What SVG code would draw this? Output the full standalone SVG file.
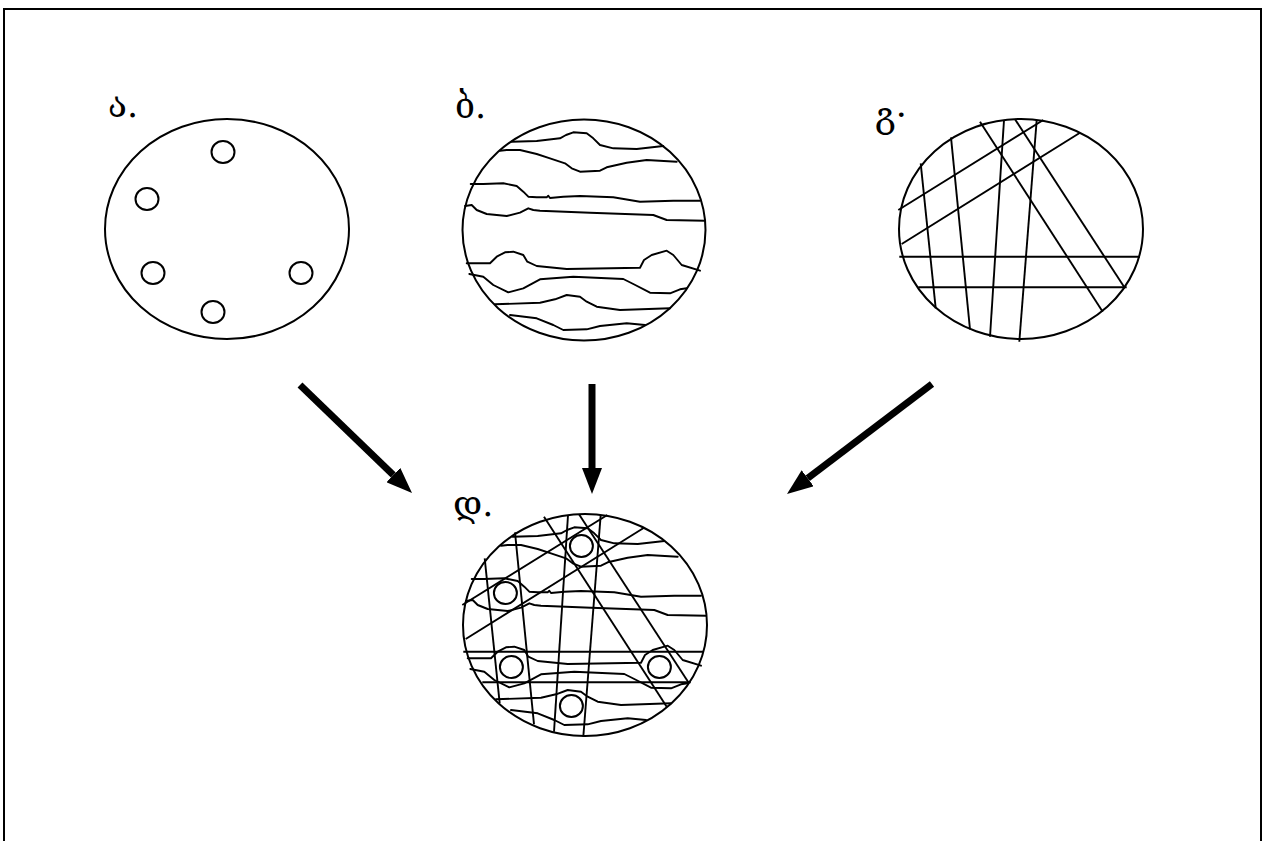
<svg xmlns="http://www.w3.org/2000/svg" xmlns:xlink="http://www.w3.org/1999/xlink" width="1266" height="841" viewBox="0 0 1266 841">
<style>
.frame{fill:none;stroke:#000;stroke-width:2}
.disc{fill:#fff;stroke:#000;stroke-width:2}
.spot{fill:none;stroke:#000;stroke-width:2}
.band{fill:none;stroke:#000;stroke-width:1.9;stroke-linejoin:round;stroke-linecap:round}
.cut{fill:none;stroke:#000;stroke-width:1.9}
.lbl{font-family:"DejaVu Serif","DejaVu Sans",serif;font-size:35px;fill:#000}
.arrow{fill:none;stroke:#000;stroke-width:7}
</style>
<defs>
<marker id="head" markerUnits="userSpaceOnUse" viewBox="0 0 26 20" refX="0" refY="10" markerWidth="26" markerHeight="20" orient="auto">
<path d="M0,0 L26,10 L0,20 Z" fill="#000"/>
</marker>
<g id="spots">
<ellipse class="spot" cx="223" cy="152" rx="11.5" ry="11"/>
<ellipse class="spot" cx="147" cy="199" rx="11.5" ry="11"/>
<ellipse class="spot" cx="153" cy="273" rx="11.5" ry="11"/>
<ellipse class="spot" cx="213" cy="312" rx="11.5" ry="11"/>
<ellipse class="spot" cx="301" cy="273" rx="11.5" ry="11"/>
</g>
<g id="bands">
<path class="band" d="M511.7,141.7 L536.7,141 L560,138.3 L566,135 L573.3,132.3 L586.7,133.3 L593.3,138.3 L600,145 L613.3,148.3 L636.7,149 L663.3,146"/>
<path class="band" d="M500,150.7 L506.7,150 L520,150 L536.7,154 L550,158.3 L565,163.3 L571.7,168.3 L580,171.7 L600,170.7 L606.7,167.3 L626.7,162.7 L646.7,160 L676.7,161.7"/>
<path class="band" d="M470.7,184 L483.3,184 L503.3,183.3 L516.7,186 L523.3,191.7 L528.3,196.7 L536.7,197.3 L546.7,197.3 L548.3,195.7 L550,198 L563.3,196.7 L580,196 L613.3,197.3 L640,201.7 L673.3,200.7 L700,200.7"/>
<path class="band" d="M465,206 L471.7,205 L476.7,210 L486.7,214 L506.7,216 L520,212.7 L528.3,208.3 L533.3,210 L540,210.7 L590,212.7 L653.3,215 L666.7,220 L705,220.7"/>
<path class="band" d="M466.7,263.3 L490,263.3 L496.7,256.7 L505,252.3 L513.3,251.7 L523.3,255 L527.3,261.7 L536.7,266 L566.7,269 L640,267.7 L644,260 L651.7,255 L666.7,250.7 L673.3,255 L681.7,265 L700,270.7"/>
<path class="band" d="M469.3,274 L483.3,276.7 L493.3,285 L508.3,292.3 L523.3,288.3 L540,279.3 L573.3,276.7 L623.3,279 L633.3,284 L650,292.7 L670,293.3 L680,289.3 L686.7,288.3"/>
<path class="band" d="M495,304.3 L540,302.7 L555,299.3 L566.7,295 L580,296.7 L586.7,301.7 L596.7,306.7 L620,310 L670,308.3"/>
<path class="band" d="M510,315 L536.7,318.3 L553.3,325 L563.3,330 L586.7,329.3 L600,326 L626.7,323.3 L645,325"/>
</g>
<g id="cuts">
<line class="cut" x1="980" y1="121.7" x2="1102.7" y2="311.7"/>
<line class="cut" x1="1015" y1="119.3" x2="1125" y2="288.3"/>
<line class="cut" x1="1004" y1="120" x2="990" y2="336.7"/>
<line class="cut" x1="1036.7" y1="120" x2="1019.3" y2="341.7"/>
<line class="cut" x1="951" y1="137.3" x2="970" y2="329.3"/>
<line class="cut" x1="920.7" y1="163.3" x2="935.7" y2="308.3"/>
<line class="cut" x1="898.3" y1="210" x2="1043.3" y2="120"/>
<line class="cut" x1="901.7" y1="244" x2="1080" y2="132.7"/>
<line class="cut" x1="899.3" y1="256.7" x2="1140" y2="256.7"/>
<line class="cut" x1="918.3" y1="287.3" x2="1126.7" y2="287.3"/>
</g>
</defs>
<rect width="1266" height="841" fill="#fff"/>
<path class="frame" d="M4,841 V9 H1261 V841"/>
<g id="node-a">
<ellipse class="disc" cx="227" cy="229" rx="122" ry="110"/>
<use xlink:href="#spots"/>
<text class="lbl" x="108" y="117">ა.</text>
</g>
<g id="node-b">
<ellipse class="disc" cx="584" cy="230" rx="121.5" ry="110.5"/>
<use xlink:href="#bands"/>
<text class="lbl" x="455" y="118">ბ.</text>
</g>
<g id="node-c">
<ellipse class="disc" cx="1021" cy="229" rx="122" ry="110"/>
<use xlink:href="#cuts"/>
<text class="lbl" x="875" y="127">გ·</text>
</g>
<g id="node-d">
<ellipse class="disc" cx="585" cy="625" rx="122" ry="111"/>
<use xlink:href="#cuts" transform="translate(-436,395)"/>
<use xlink:href="#bands" transform="translate(1,395)"/>
<use xlink:href="#spots" transform="translate(358.4,394)"/>
<text class="lbl" x="453" y="516">დ.</text>
</g>
<g id="connectors">
<line class="arrow" x1="300" y1="385" x2="393.3" y2="475" marker-end="url(#head)"/>
<line class="arrow" x1="592" y1="384" x2="592" y2="468" marker-end="url(#head)"/>
<line class="arrow" x1="932" y1="384" x2="807.7" y2="478.3" marker-end="url(#head)"/>
</g>
</svg>
